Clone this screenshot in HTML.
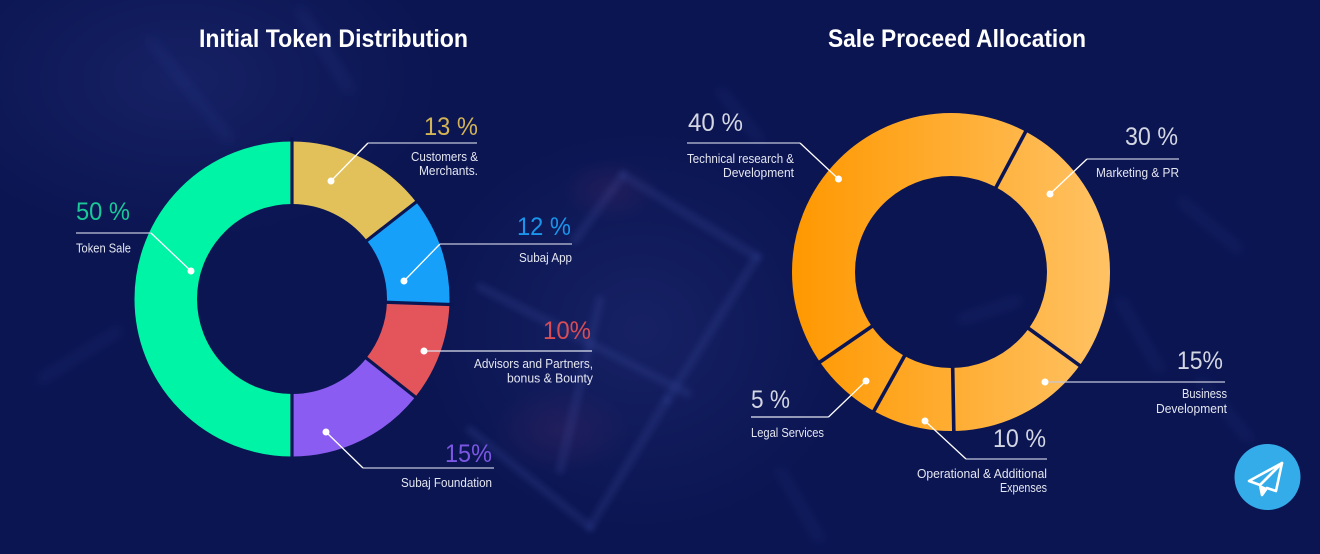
<!DOCTYPE html>
<html>
<head>
<meta charset="utf-8">
<style>
html,body{margin:0;padding:0;background:#0b1552;}
svg{display:block;}
text{font-family:"Liberation Sans",Arial,sans-serif;}
</style>
</head>
<body>
<svg width="1320" height="554" viewBox="0 0 1320 554" xmlns="http://www.w3.org/2000/svg">
<defs>
  <linearGradient id="og" gradientUnits="userSpaceOnUse" x1="792" y1="0" x2="1110" y2="0">
    <stop offset="0" stop-color="#ff9800"/>
    <stop offset="1" stop-color="#ffc264"/>
  </linearGradient>
  <radialGradient id="haze1" cx="0.5" cy="0.5" r="0.5">
    <stop offset="0" stop-color="#24307a" stop-opacity="0.45"/>
    <stop offset="1" stop-color="#24307a" stop-opacity="0"/>
  </radialGradient>
  <radialGradient id="redglow" cx="0.5" cy="0.5" r="0.5">
    <stop offset="0" stop-color="#5a2a66" stop-opacity="0.25"/>
    <stop offset="1" stop-color="#5a2a66" stop-opacity="0"/>
  </radialGradient>
  <filter id="blur" x="-20%" y="-20%" width="140%" height="140%"><feGaussianBlur stdDeviation="3"/></filter>
  <filter id="blur2" x="-20%" y="-20%" width="140%" height="140%"><feGaussianBlur stdDeviation="6"/></filter>
</defs>

<!-- background -->
<rect x="0" y="0" width="1320" height="554" fill="#0b1552"/>
<ellipse cx="180" cy="80" rx="260" ry="160" fill="url(#haze1)"/>
<ellipse cx="640" cy="330" rx="220" ry="200" fill="url(#haze1)"/>
<ellipse cx="610" cy="190" rx="50" ry="32" fill="url(#redglow)"/>
<ellipse cx="560" cy="430" rx="70" ry="45" fill="url(#redglow)"/>

<!-- faint streaks / cube -->
<g stroke="#4a5eb8" stroke-opacity="0.16" stroke-width="9" fill="none" filter="url(#blur)" stroke-linecap="round">
  <line x1="623" y1="175" x2="757" y2="257"/>
  <line x1="757" y1="257" x2="667" y2="400"/>
  <line x1="623" y1="175" x2="575" y2="240"/>
  <line x1="480" y1="287" x2="687" y2="393"/>
  <line x1="667" y1="400" x2="590" y2="527"/>
  <line x1="470" y1="430" x2="590" y2="527"/>
  <line x1="600" y1="300" x2="560" y2="470"/>
</g>
<g stroke="#3f58c0" stroke-opacity="0.2" stroke-width="6" fill="none" filter="url(#blur2)" stroke-linecap="round">
  <line x1="150" y1="40" x2="230" y2="140"/>
  <line x1="300" y1="10" x2="350" y2="90"/>
  <line x1="40" y1="380" x2="120" y2="330"/>
  <line x1="1120" y1="300" x2="1160" y2="370"/>
  <line x1="1180" y1="200" x2="1240" y2="250"/>
  <line x1="780" y1="470" x2="820" y2="540"/>
  <line x1="1200" y1="380" x2="1250" y2="440"/>
  <line x1="880" y1="180" x2="960" y2="150"/>
  <line x1="960" y1="320" x2="1020" y2="300"/>
  <line x1="720" y1="90" x2="760" y2="140"/>
</g>

<!-- titles -->
<text x="199" y="47" font-size="25" font-weight="bold" fill="#ffffff" textLength="269" lengthAdjust="spacingAndGlyphs">Initial Token Distribution</text>
<text x="828" y="47" font-size="25" font-weight="bold" fill="#ffffff" textLength="258" lengthAdjust="spacingAndGlyphs">Sale Proceed Allocation</text>

<!-- LEFT DONUT -->
<g fill="none" stroke-width="62.5" transform="rotate(-90 292 299)">
  <circle cx="292" cy="299" r="126.25" stroke="#e3c15a" stroke-dasharray="0 0 114.58 1000"/>
  <circle cx="292" cy="299" r="126.25" stroke="#16a0f9" stroke-dasharray="0 114.58 88.14 1000"/>
  <circle cx="292" cy="299" r="126.25" stroke="#e3555b" stroke-dasharray="0 202.72 80.43 1000"/>
  <circle cx="292" cy="299" r="126.25" stroke="#8a5cf1" stroke-dasharray="0 283.15 113.48 1000"/>
  <circle cx="292" cy="299" r="126.25" stroke="#00f4a6" stroke-dasharray="0 396.63 396.63 1000"/>
</g>
<g stroke="#0b1552" stroke-width="3.2">
  <line x1="292" y1="209" x2="292" y2="137"/>
  <line x1="362.9" y1="243.6" x2="419.7" y2="199.3"/>
  <line x1="381.9" y1="302.1" x2="453.9" y2="304.65"/>
  <line x1="362.4" y1="355.0" x2="418.8" y2="399.8"/>
  <line x1="292" y1="389" x2="292" y2="461"/>
</g>

<!-- RIGHT DONUT -->
<circle cx="951" cy="272" r="127.5" fill="none" stroke="url(#og)" stroke-width="63"/>
<g stroke="#0b1552" stroke-width="3.6">
  <line x1="993.7" y1="191.7" x2="1028.0" y2="127.2"/>
  <line x1="1024.6" y1="325.5" x2="1083.7" y2="368.4"/>
  <line x1="952.6" y1="363" x2="953.9" y2="436"/>
  <line x1="906.9" y1="351.6" x2="871.5" y2="415.4"/>
  <line x1="876.0" y1="323.5" x2="815.8" y2="364.9"/>
</g>

<!-- LEADER LINES -->
<g fill="none" stroke-width="1.3">
  <polyline points="331,181 368,143" stroke="#ffffff"/>
  <line x1="368" y1="143" x2="477" y2="143" stroke="#c3c7da"/>
  <polyline points="404,281 440,244" stroke="#ffffff"/>
  <line x1="440" y1="244" x2="572" y2="244" stroke="#c3c7da"/>
  <line x1="424" y1="351" x2="592" y2="351" stroke="#dfe2ee"/>
  <polyline points="326,432 363,468" stroke="#ffffff"/>
  <line x1="363" y1="468" x2="494" y2="468" stroke="#c3c7da"/>
  <line x1="76" y1="233" x2="151" y2="233" stroke="#c3c7da"/>
  <polyline points="151,233 191,271" stroke="#ffffff"/>
  <line x1="687" y1="143" x2="800" y2="143" stroke="#c3c7da"/>
  <polyline points="800,143 838.5,179" stroke="#ffffff"/>
  <line x1="1087" y1="159" x2="1179" y2="159" stroke="#c3c7da"/>
  <polyline points="1087,159 1050,194" stroke="#ffffff"/>
  <line x1="1045" y1="382" x2="1225" y2="382" stroke="#c3c7da"/>
  <polyline points="925,421 966,459" stroke="#ffffff"/>
  <line x1="966" y1="459" x2="1047" y2="459" stroke="#c3c7da"/>
  <polyline points="866,381 828.5,417" stroke="#ffffff"/>
  <line x1="828.5" y1="417" x2="751" y2="417" stroke="#e6e8f2"/>
</g>
<g fill="#ffffff">
  <circle cx="331" cy="181" r="3.5"/>
  <circle cx="404" cy="281" r="3.5"/>
  <circle cx="424" cy="351" r="3.5"/>
  <circle cx="326" cy="432" r="3.5"/>
  <circle cx="191" cy="271" r="3.5"/>
  <circle cx="838.5" cy="179" r="3.5"/>
  <circle cx="1050" cy="194" r="3.5"/>
  <circle cx="1045" cy="382" r="3.5"/>
  <circle cx="925" cy="421" r="3.5"/>
  <circle cx="866" cy="381" r="3.5"/>
</g>

<!-- PERCENT LABELS -->
<g font-size="25">
  <text x="424" y="135" fill="#d3b455" textLength="54" lengthAdjust="spacingAndGlyphs">13 %</text>
  <text x="517" y="235" fill="#1a95ec" textLength="54" lengthAdjust="spacingAndGlyphs">12 %</text>
  <text x="543" y="339" fill="#d84c55" textLength="48" lengthAdjust="spacingAndGlyphs">10%</text>
  <text x="445" y="462" fill="#7c57e4" textLength="47" lengthAdjust="spacingAndGlyphs">15%</text>
  <text x="76" y="220" fill="#19c997" textLength="54" lengthAdjust="spacingAndGlyphs">50 %</text>
  <text x="688" y="131" fill="#d4d7e2" textLength="55" lengthAdjust="spacingAndGlyphs">40 %</text>
  <text x="1125" y="145" fill="#d4d7e2" textLength="53" lengthAdjust="spacingAndGlyphs">30 %</text>
  <text x="1177" y="369" fill="#d4d7e2" textLength="46" lengthAdjust="spacingAndGlyphs">15%</text>
  <text x="993" y="447" fill="#d4d7e2" textLength="53" lengthAdjust="spacingAndGlyphs">10 %</text>
  <text x="751" y="408" fill="#d4d7e2" textLength="39" lengthAdjust="spacingAndGlyphs">5 %</text>
</g>

<!-- DESCRIPTION LABELS -->
<g font-size="12.5" fill="#e4e6f0">
  <text x="411" y="161" textLength="67" lengthAdjust="spacingAndGlyphs">Customers &amp;</text>
  <text x="419" y="175" textLength="59" lengthAdjust="spacingAndGlyphs">Merchants.</text>
  <text x="519" y="262" textLength="53" lengthAdjust="spacingAndGlyphs">Subaj App</text>
  <text x="474" y="368" textLength="119" lengthAdjust="spacingAndGlyphs">Advisors and Partners,</text>
  <text x="507" y="382.5" textLength="86" lengthAdjust="spacingAndGlyphs">bonus &amp; Bounty</text>
  <text x="401" y="487" textLength="91" lengthAdjust="spacingAndGlyphs">Subaj Foundation</text>
  <text x="76" y="252.5" textLength="55" lengthAdjust="spacingAndGlyphs">Token Sale</text>

  <text x="687" y="163" textLength="107" lengthAdjust="spacingAndGlyphs">Technical research &amp;</text>
  <text x="723" y="177" textLength="71" lengthAdjust="spacingAndGlyphs">Development</text>
  <text x="1096" y="177" textLength="83" lengthAdjust="spacingAndGlyphs">Marketing &amp; PR</text>
  <text x="1182" y="398" textLength="45" lengthAdjust="spacingAndGlyphs">Business</text>
  <text x="1156" y="413" textLength="71" lengthAdjust="spacingAndGlyphs">Development</text>
  <text x="917" y="478" textLength="130" lengthAdjust="spacingAndGlyphs">Operational &amp; Additional</text>
  <text x="1000" y="492" textLength="47" lengthAdjust="spacingAndGlyphs">Expenses</text>
  <text x="751" y="437" textLength="73" lengthAdjust="spacingAndGlyphs">Legal Services</text>
</g>

<!-- TELEGRAM BUTTON -->
<circle cx="1267.5" cy="477" r="33" fill="#33ace9"/>
<g fill="none" stroke="#ffffff" stroke-width="2.6" stroke-linejoin="round">
  <path d="M1282,463 L1249,481 L1260,485 Z"/>
  <path d="M1282,463 L1260,485 L1262,495 L1267,488 L1276,491 Z"/>
</g>
<path d="M1260,485 L1262,495 L1267,488 Z" fill="#ffffff"/>
</svg>
</body>
</html>
